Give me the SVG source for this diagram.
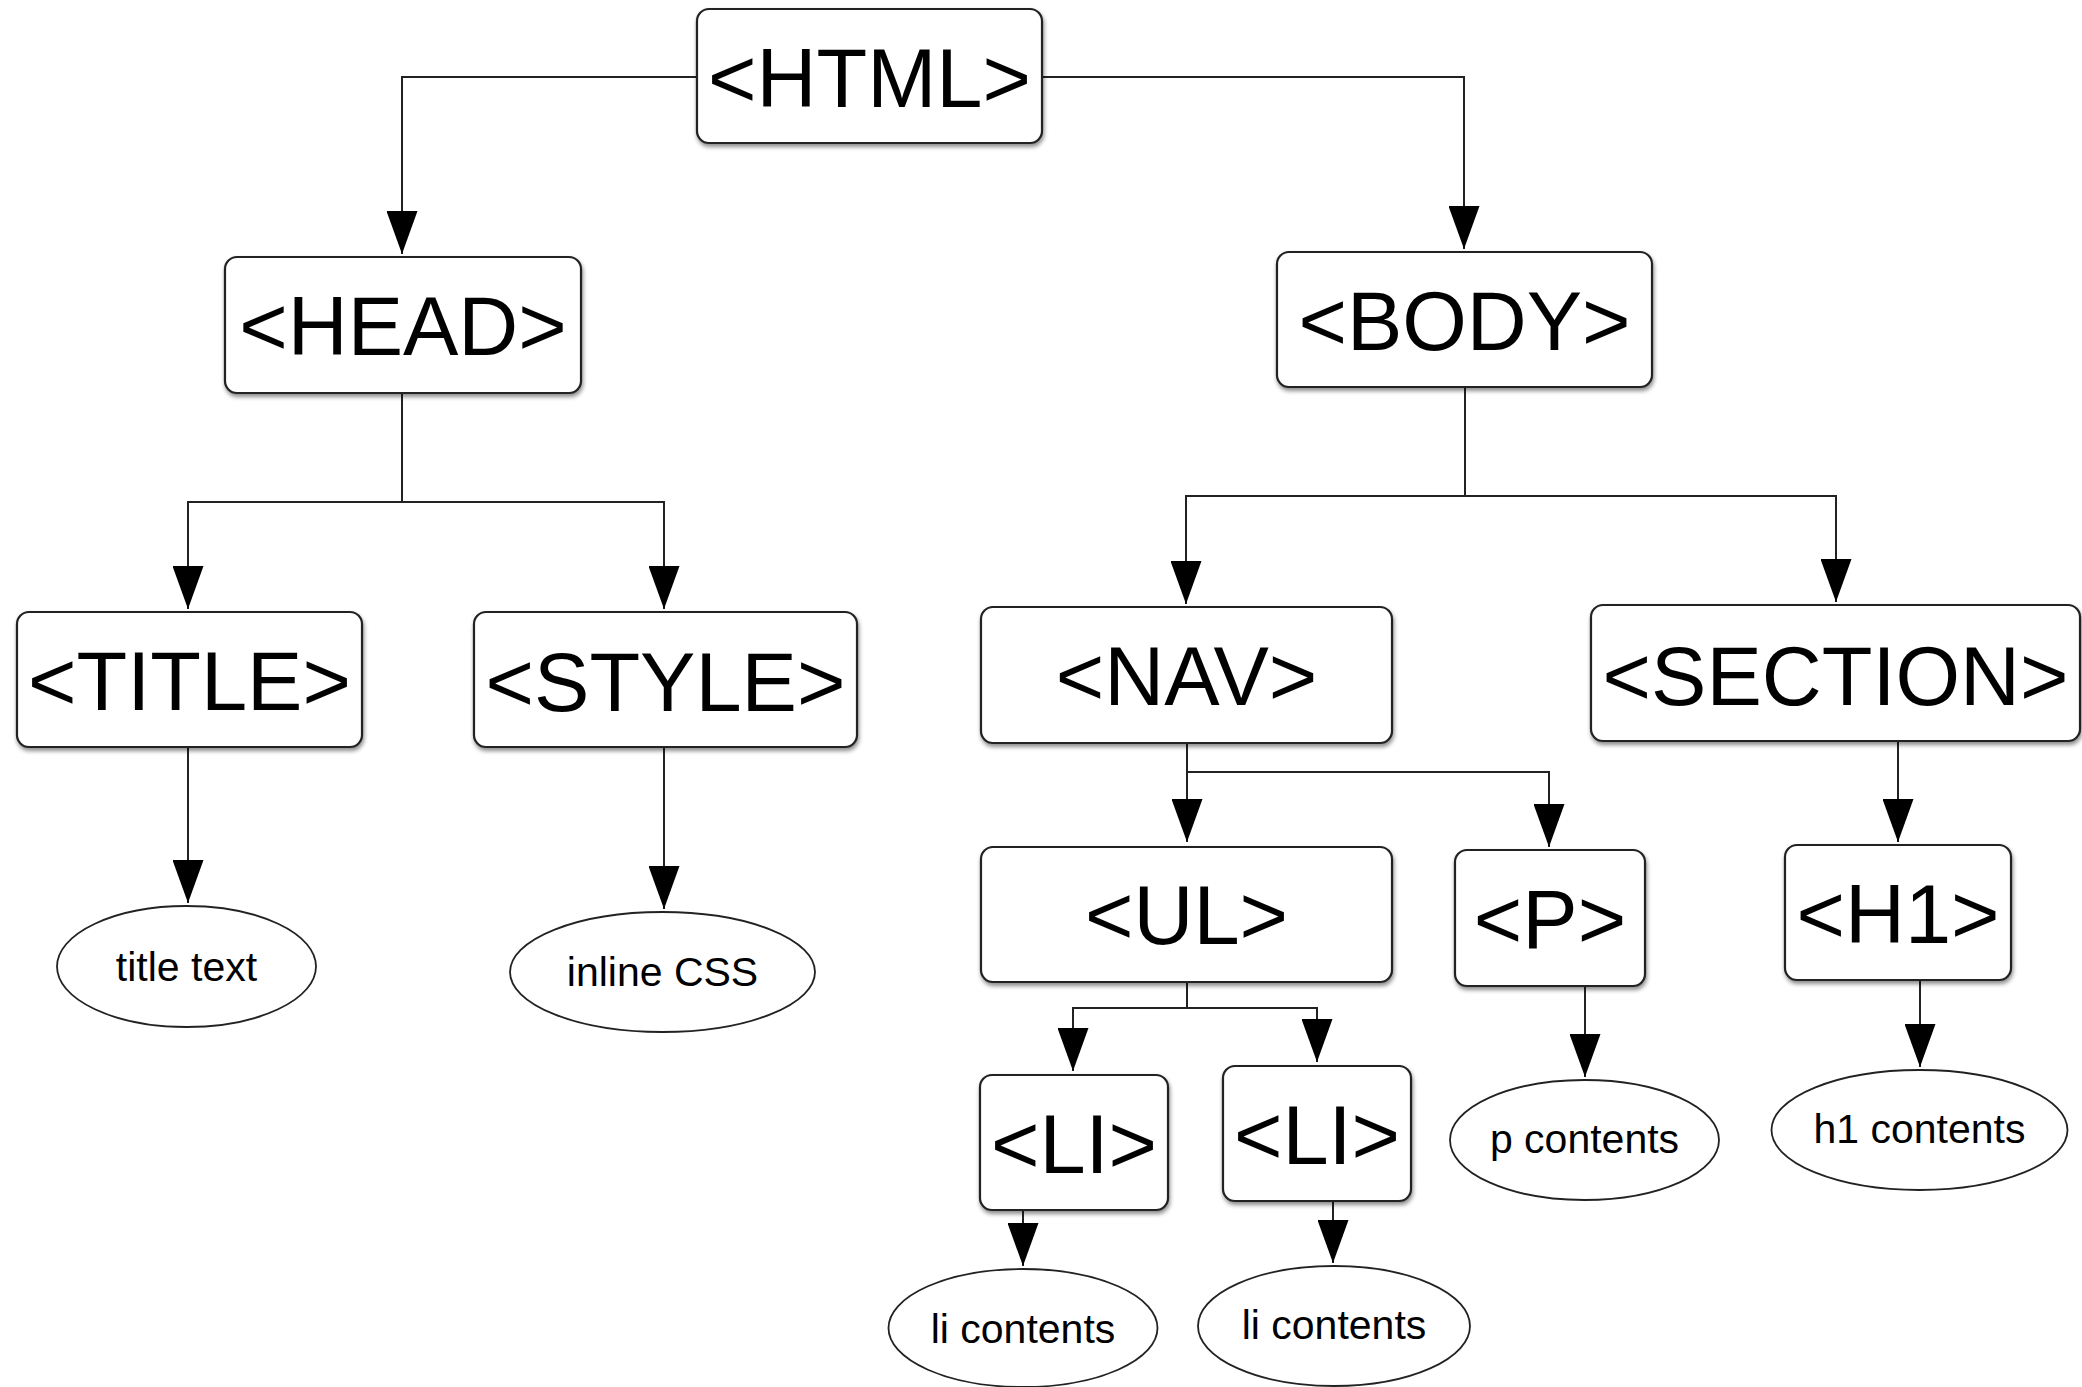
<svg xmlns="http://www.w3.org/2000/svg" width="2082" height="1387" viewBox="0 0 2082 1387">
  <style>
    .box { fill: #ffffff; stroke: #222222; stroke-width: 2.2; filter: url(#shadow); }
    .oval { fill: #ffffff; stroke: #222222; stroke-width: 1.8; }
    .tag { font-family: "Liberation Sans", Arial, Helvetica, sans-serif; font-size: 83px; fill: #000000; text-anchor: middle; }
    .leaf { font-family: "Liberation Sans", Arial, Helvetica, sans-serif; font-size: 41px; fill: #000000; text-anchor: middle; }
    .link { fill: none; stroke: #222222; stroke-width: 2; marker-end: url(#arrow); }
  </style>
  <defs>
    <filter id="shadow" x="-10%" y="-10%" width="120%" height="130%">
      <feDropShadow dx="1" dy="3" stdDeviation="2" flood-color="#000000" flood-opacity="0.45"/>
    </filter>
    <marker id="arrow" markerUnits="userSpaceOnUse" viewBox="0 0 43 31" refX="43" refY="15.5" markerWidth="43" markerHeight="31" orient="auto">
      <path d="M0,0 L43,15.5 L0,31 Z" fill="#000000"/>
    </marker>
  </defs>
  <rect width="2082" height="1387" fill="#ffffff"/>

  <!-- tree edges -->
  <g id="connectors">
    <path class="link" d="M697,77 H402 V254"/>
    <path class="link" d="M1042,77 H1464 V249"/>
    <path class="link" d="M402,393 V502 H188 V609"/>
    <path class="link" d="M402,502 H664 V609"/>
    <path class="link" d="M1465,388 V496 H1186 V604"/>
    <path class="link" d="M1465,496 H1836 V602"/>
    <path class="link" d="M1187,743 V842"/>
    <path class="link" d="M1187,772 H1549 V847"/>
    <path class="link" d="M1898,741 V842"/>
    <path class="link" d="M1187,982 V1008 H1073 V1071"/>
    <path class="link" d="M1187,1008 H1317 V1062"/>
    <path class="link" d="M188,747 V903"/>
    <path class="link" d="M664,747 V909"/>
    <path class="link" d="M1585,986 V1077"/>
    <path class="link" d="M1920,980 V1067"/>
    <path class="link" d="M1023,1210 V1266"/>
    <path class="link" d="M1333,1201 V1263"/>
  </g>

  <!-- element nodes -->
  <g id="node-html">
    <rect class="box" x="697" y="9" width="345" height="134" rx="12"/>
    <text class="tag" x="869.5" y="107">&lt;HTML&gt;</text>
  </g>
  <g id="node-head">
    <rect class="box" x="225" y="257" width="356" height="136" rx="12"/>
    <text class="tag" x="403" y="355">&lt;HEAD&gt;</text>
  </g>
  <g id="node-body">
    <rect class="box" x="1277" y="252" width="375" height="135" rx="12"/>
    <text class="tag" x="1464.5" y="350">&lt;BODY&gt;</text>
  </g>
  <g id="node-title">
    <rect class="box" x="17" y="612" width="345" height="135" rx="12"/>
    <text class="tag" x="189.5" y="710">&lt;TITLE&gt;</text>
  </g>
  <g id="node-style">
    <rect class="box" x="474" y="612" width="383" height="135" rx="12"/>
    <text class="tag" x="665.5" y="711">&lt;STYLE&gt;</text>
  </g>
  <g id="node-nav">
    <rect class="box" x="981" y="607" width="411" height="136" rx="12"/>
    <text class="tag" x="1186.5" y="705">&lt;NAV&gt;</text>
  </g>
  <g id="node-section">
    <rect class="box" x="1591" y="605" width="489" height="136" rx="12"/>
    <text class="tag" x="1835.5" y="705">&lt;SECTION&gt;</text>
  </g>
  <g id="node-ul">
    <rect class="box" x="981" y="847" width="411" height="135" rx="12"/>
    <text class="tag" x="1186.5" y="944">&lt;UL&gt;</text>
  </g>
  <g id="node-p">
    <rect class="box" x="1455" y="850" width="190" height="136" rx="12"/>
    <text class="tag" x="1550" y="948">&lt;P&gt;</text>
  </g>
  <g id="node-h1">
    <rect class="box" x="1785" y="845" width="226" height="135" rx="12"/>
    <text class="tag" x="1898" y="943">&lt;H1&gt;</text>
  </g>
  <g id="node-li-1">
    <rect class="box" x="980" y="1075" width="188" height="135" rx="12"/>
    <text class="tag" x="1074" y="1173">&lt;LI&gt;</text>
  </g>
  <g id="node-li-2">
    <rect class="box" x="1223" y="1066" width="188" height="135" rx="12"/>
    <text class="tag" x="1317" y="1164">&lt;LI&gt;</text>
  </g>

  <!-- content leaves -->
  <g id="leaf-title-text">
    <ellipse class="oval" cx="186.5" cy="966.5" rx="129.5" ry="60.5"/>
    <text class="leaf" x="186.5" y="981">title text</text>
  </g>
  <g id="leaf-inline-css">
    <ellipse class="oval" cx="662.5" cy="972" rx="152.5" ry="60"/>
    <text class="leaf" x="662.5" y="986">inline CSS</text>
  </g>
  <g id="leaf-p-contents">
    <ellipse class="oval" cx="1584.5" cy="1140" rx="134.5" ry="60"/>
    <text class="leaf" x="1584.5" y="1153">p contents</text>
  </g>
  <g id="leaf-h1-contents">
    <ellipse class="oval" cx="1919.5" cy="1130" rx="148" ry="60"/>
    <text class="leaf" x="1919.5" y="1143">h1 contents</text>
  </g>
  <g id="leaf-li-contents-1">
    <ellipse class="oval" cx="1023" cy="1328" rx="134.5" ry="59"/>
    <text class="leaf" x="1023" y="1343">li contents</text>
  </g>
  <g id="leaf-li-contents-2">
    <ellipse class="oval" cx="1334" cy="1326" rx="136" ry="60"/>
    <text class="leaf" x="1334" y="1339">li contents</text>
  </g>
</svg>
